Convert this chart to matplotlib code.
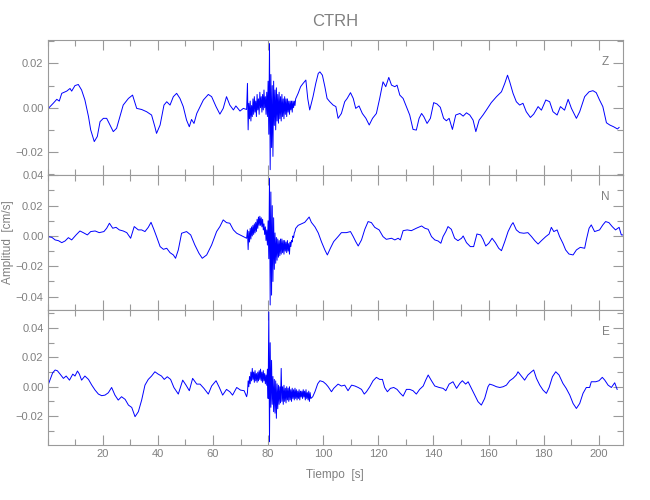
import numpy as np
import matplotlib
matplotlib.use('Agg')
import matplotlib.pyplot as plt
from matplotlib.ticker import MultipleLocator, FixedLocator, FuncFormatter

# Seismogram of station CTRH, components Z, N, E (cm/s)

# --- Z component: (time [s], amplitude) before the arrival
z_pre = [(0, -0.0006), (2, 0.002), (3.3, 0.0038), (4.2, 0.003), (5.1, 0.0065), (6.9, 0.0075),
         (8.1, 0.0087), (8.7, 0.0075), (9.9, 0.010), (11.1, 0.0105), (12.3, 0.008), (13.5, 0.0035),
         (14.8, -0.004), (15.6, -0.010), (16.9, -0.0153), (18.0, -0.013), (19.0, -0.0063), (20.2, -0.0048),
         (21.4, -0.0048), (22.6, -0.0078), (23.8, -0.0108), (25.0, -0.0093), (26.2, -0.004), (27.4, 0.0012),
         (29.3, 0.0042), (30.8, 0.0057), (32.3, -0.0003), (34.1, -0.0008), (35.9, -0.0018), (37.7, -0.0033),
         (38.9, -0.0086), (39.5, -0.0116), (40.8, -0.0078), (42.2, 0.0012), (43.2, 0.0027), (44.4, 0.0012),
         (45.6, 0.005), (46.8, 0.0065), (48.0, 0.0042), (49.2, 0.0005), (50.4, -0.0056), (51.4, -0.0086),
         (52.2, -0.0053), (53.1, -0.0071), (54.1, -0.0026), (55.3, 0.0005), (56.5, 0.0035), (58.3, 0.006),
         (59.5, 0.005), (61.1, 0.0005), (62.5, -0.0029), (63.7, -0.0003), (64.9, 0.005), (66.1, 0.0012),
         (67.4, -0.001), (68.3, 0.0008), (69.8, -0.0015), (71.0, -0.0003), (72.2, -0.0008)]
# samples every 0.25 s from 72.5 s (strong motion)
z_burst = [0.011, -0.010, 0.002, -0.005, 0.003, -0.006, 0.001, -0.004, 0.004, -0.003,
           0.005, -0.002, 0.003, -0.004, 0.006, -0.001, 0.004, -0.003, 0.007, 0.000,
           0.005, -0.002, 0.006, -0.001, 0.008, 0.000, 0.005, -0.003, 0.007, -0.004,
           0.012, -0.012, 0.029, -0.028, 0.015, -0.018, 0.010, -0.022, 0.012, -0.008,
           0.008, -0.010, 0.009, -0.006, 0.006, -0.007, 0.007, -0.005, 0.005, -0.006,
           0.006, -0.004, 0.004, -0.005, 0.005, -0.003, 0.004, -0.004, 0.004, -0.002,
           0.003, -0.003, 0.003, -0.001, 0.003, -0.002, 0.003, 0.000, 0.003, 0.001, 0.004]
z_post = [(90.9, 0.0065), (91.8, 0.0095), (92.7, 0.011), (93.7, 0.0125), (94.4, 0.004), (95.1, -0.001),
          (96.3, 0.005), (97.3, 0.011), (98.2, 0.0155), (98.8, 0.0162), (99.7, 0.0147), (100.6, 0.0095),
          (101.4, 0.0042), (102.4, 0.0027), (103.6, 0.0012), (104.6, 0.0005), (105.4, -0.0048), (106.6, -0.0026),
          (107.8, 0.0027), (108.7, 0.0042), (109.9, 0.0068), (110.9, 0.0042), (111.8, -0.0003), (113.0, 0.0008),
          (114.2, -0.0026), (115.5, -0.0048), (116.7, -0.0078), (117.9, -0.0048), (119.3, -0.0026), (120.5, 0.0042),
          (121.7, 0.0117), (122.7, 0.0095), (123.8, 0.0137), (124.8, 0.0102), (126.0, 0.0095), (126.8, 0.0102),
          (127.8, 0.0057), (129.0, 0.0042), (130.2, 0.0005), (131.4, -0.0033), (132.6, -0.0098), (133.8, -0.0101),
          (134.8, -0.0048), (135.7, -0.0026), (136.5, -0.004), (137.7, -0.0071), (138.9, -0.0048), (140.1, 0.0023),
          (141.3, 0.0017), (142.5, 0.0002), (143.7, -0.0048), (144.7, -0.0059), (145.7, -0.0048), (146.9, -0.0098),
          (148.1, -0.0033), (149.6, -0.0026), (150.8, -0.0038), (152.0, -0.0023), (153.2, -0.0033), (154.4, -0.0056),
          (155.4, -0.0108), (156.6, -0.0056), (158.0, -0.0033), (159.2, -0.0011), (161.0, 0.0023), (162.9, 0.005),
          (164.7, 0.0072), (165.9, 0.011), (166.9, 0.0147), (167.7, 0.0117), (168.9, 0.0065), (170.1, 0.0027),
          (171.3, 0.0012), (172.5, 0.002), (173.7, -0.0018), (175.2, -0.0044), (176.4, -0.0029), (178.0, 0.0005),
          (179.2, -0.0011), (180.8, 0.0035), (182.2, 0.0027), (183.4, -0.0018), (184.9, -0.0033), (186.1, 0.0005),
          (187.6, -0.0011), (188.9, 0.0038), (190.1, -0.0003), (191.9, -0.0048), (193.1, -0.0018), (194.9, 0.005),
          (196.5, 0.0072), (197.9, 0.0077), (199.1, 0.0068), (200.3, 0.0035), (201.5, 0.0005), (202.8, -0.0068),
          (204.0, -0.0078), (205.4, -0.0086), (206.8, -0.0096), (207.4, -0.0089)]

# --- N component
n_pre = [(0, -0.0004), (1.5, -0.0009), (2.7, -0.0026), (3.9, -0.0031), (5.1, -0.0044), (6.3, -0.0033),
         (7.5, -0.0011), (8.7, -0.0026), (10.3, 0.0007), (11.7, 0.0033), (12.9, 0.0022), (14.4, 0.0007),
         (15.6, 0.0029), (17.2, 0.0033), (18.7, 0.0022), (20.4, 0.0029), (21.4, 0.0051), (22.4, 0.0084),
         (23.6, 0.0051), (24.8, 0.0057), (26.0, 0.004), (27.4, 0.0033), (28.7, 0.0022), (30.1, -0.0015),
         (31.4, 0.0062), (32.9, 0.004), (34.1, 0.004), (35.3, 0.0029), (36.5, 0.0057), (37.5, 0.009),
         (38.6, 0.004), (39.5, -0.0004), (40.8, -0.007), (42.0, -0.0088), (43.2, -0.0081), (44.4, -0.011),
         (45.6, -0.0125), (46.4, -0.0147), (47.4, -0.0092), (48.6, 0.0018), (50.4, 0.0029), (51.9, 0.0007),
         (53.4, -0.0059), (54.9, -0.0114), (56.1, -0.0147), (57.7, -0.0125), (59.5, -0.0059), (61.3, 0.0029),
         (62.5, 0.0062), (63.7, 0.0106), (64.9, 0.0088), (66.1, 0.0084), (67.4, 0.004), (68.6, 0.0018),
         (69.8, 0.0007), (71.0, -0.0004), (72.2, -0.0015)]
n_burst = [0.004, -0.009, 0.003, -0.004, 0.005, -0.002, 0.006, 0.000, 0.007, 0.001,
           0.008, 0.002, 0.009, 0.003, 0.011, 0.005, 0.0125, 0.007, 0.013, 0.007,
           0.012, 0.006, 0.011, 0.004, 0.008, 0.001, 0.006, -0.003, 0.004, -0.006,
           0.010, -0.015, 0.038, -0.0455, 0.029, -0.039, 0.020, -0.030, 0.012, -0.022,
           0.002, -0.018, -0.001, -0.016, -0.002, -0.014, -0.003, -0.013, -0.002, -0.012,
           -0.002, -0.011, -0.003, -0.012, -0.003, -0.010, -0.004, -0.011, -0.003, -0.010,
           -0.005, -0.012, -0.004, -0.007, -0.003, -0.004, 0.000, -0.001, 0.002, 0.003, 0.005]
n_post = [(90.9, 0.007), (92.1, 0.008), (93.3, 0.009), (94.9, 0.0125), (95.7, 0.009), (97.0, 0.006),
          (98.2, 0.002), (99.4, -0.004), (100.6, -0.0092), (101.5, -0.0125), (102.6, -0.0081), (103.8, -0.0037),
          (105.4, -0.0004), (106.6, 0.0022), (108.4, 0.0022), (109.9, 0.0029), (110.9, -0.0004), (111.8, -0.0037),
          (112.7, -0.0066), (113.9, -0.0026), (115.1, 0.0044), (116.3, 0.0095), (117.5, 0.0088), (118.7, 0.0057),
          (120.3, 0.004), (121.7, -0.0004), (122.9, -0.0022), (124.8, -0.0015), (126.0, -0.0026), (127.2, -0.0015),
          (128.0, -0.0026), (129.0, 0.0035), (130.5, 0.004), (132.0, 0.0035), (133.8, 0.0051), (135.7, 0.0066),
          (136.9, 0.0051), (138.1, 0.0044), (139.3, -0.0004), (140.5, -0.0026), (141.7, -0.0033), (142.7, -0.0048),
          (143.5, -0.0004), (144.5, 0.0029), (145.3, 0.0062), (146.5, 0.0044), (147.7, -0.0015), (148.9, -0.0031),
          (150.2, -0.0015), (150.8, 0.0), (152.0, -0.0044), (153.4, -0.007), (154.6, -0.007), (155.8, 0.0013),
          (157.1, 0.0007), (158.0, -0.0022), (159.0, -0.0066), (160.1, -0.0048), (161.3, -0.0015), (162.5, -0.0044),
          (163.7, -0.0081), (164.7, -0.0097), (165.9, -0.0037), (167.1, 0.0029), (168.3, 0.0073), (168.9, 0.0088),
          (170.1, 0.004), (171.3, 0.0022), (172.8, 0.0018), (174.3, 0.0022), (175.6, -0.0004), (176.8, -0.0031),
          (178.0, -0.0053), (179.2, -0.0031), (180.8, -0.0004), (182.0, 0.0013), (182.8, 0.0057), (183.7, 0.0029),
          (184.9, 0.004), (185.8, -0.0004), (187.0, -0.0048), (188.0, -0.0092), (189.2, -0.0119), (190.7, -0.0125),
          (191.9, -0.0092), (193.3, -0.0075), (194.9, -0.0081), (195.5, -0.0026), (196.5, 0.0051), (197.3, 0.0073),
          (198.5, 0.0029), (200.3, 0.004), (201.5, 0.0073), (202.5, 0.0095), (203.7, 0.0088), (204.9, 0.0062),
          (206.1, 0.004), (207.4, 0.0057), (208.2, 0.0007), (208.8, 0.0007)]

# --- E component
e_pre = [(0, 0.0005), (0.8, 0.0045), (1.8, 0.0095), (2.7, 0.0114), (3.5, 0.0109), (4.5, 0.0086),
         (5.7, 0.0057), (6.7, 0.0073), (7.9, 0.0045), (9.1, 0.0086), (9.9, 0.0073), (10.8, 0.0107),
         (11.5, 0.0086), (12.3, 0.0045), (13.5, 0.0073), (14.8, 0.005), (16.0, 0.0011), (17.2, -0.0023),
         (18.4, -0.005), (19.6, -0.0061), (20.8, -0.0057), (22.0, -0.0041), (23.2, -0.0005), (24.4, -0.0057),
         (25.6, -0.0091), (26.8, -0.0068), (28.1, -0.0086), (29.3, -0.0125), (30.5, -0.0141), (31.7, -0.0204),
         (32.9, -0.017), (34.1, -0.0091), (35.3, 0.0011), (36.5, 0.005), (37.7, 0.0073), (38.9, 0.0102),
         (40.1, 0.0086), (41.3, 0.0073), (42.3, 0.005), (43.4, 0.0068), (44.6, 0.005), (45.8, -0.0005),
         (47.4, -0.005), (49.0, 0.0045), (50.2, 0.0011), (51.4, -0.0027), (52.6, 0.0057), (54.1, 0.0018),
         (55.3, 0.0018), (56.7, -0.0011), (58.3, -0.005), (59.5, 0.0005), (61.1, 0.0041), (62.3, -0.0005),
         (63.5, -0.0057), (64.9, -0.0018), (66.1, -0.0034), (67.1, -0.0057), (68.6, -0.0005), (70.0, -0.0023),
         (71.3, -0.0027), (72.2, -0.0068)]
e_burst = [-0.004, 0.004, 0.000, 0.007, 0.002, 0.010, 0.004, 0.0125, 0.005, 0.010,
           0.003, 0.011, 0.004, 0.009, 0.003, 0.010, 0.004, 0.011, 0.005, 0.012,
           0.004, 0.010, 0.003, 0.011, 0.004, 0.009, 0.002, 0.008, 0.001, 0.012,
           -0.008, 0.051, -0.0375, 0.030, -0.014, 0.018, -0.012, 0.007, -0.017, 0.005,
           -0.018, 0.004, -0.0215, 0.002, -0.015, 0.001, -0.012, 0.000, -0.011, 0.0125,
           -0.010, 0.000, -0.012, 0.001, -0.010, -0.001, -0.011, 0.000, -0.009, -0.001,
           -0.010, 0.000, -0.009, -0.002, -0.010, -0.001, -0.008, -0.002, -0.009, -0.001,
           -0.008, -0.002, -0.009, -0.003, -0.008, -0.002, -0.009, -0.003, -0.007, -0.003,
           -0.008, -0.002, -0.007, -0.003, -0.009, -0.002, -0.008, -0.004, -0.009, -0.003,
           -0.010, -0.004, -0.008]
e_post = [(96.2, -0.0068), (97.0, -0.0034), (98.0, 0.002), (98.8, 0.0041), (100.0, 0.0034), (101.0, 0.0018),
          (101.8, 0.0), (103.0, -0.0034), (103.8, -0.0011), (105.4, 0.0018), (106.6, 0.0005), (107.8, 0.0011),
          (109.0, -0.0027), (110.3, 0.0011), (111.5, 0.0005), (112.7, -0.0005), (113.9, -0.0018), (114.9, -0.005),
          (115.7, -0.0034), (116.9, 0.0), (118.1, 0.0041), (119.3, 0.0064), (120.5, 0.005), (121.5, 0.005),
          (122.3, -0.0005), (123.3, -0.0034), (124.4, -0.0011), (125.6, -0.0005), (126.8, -0.0018), (128.0, -0.0045),
          (129.0, -0.0064), (130.2, -0.0018), (131.4, -0.0018), (132.6, -0.0027), (133.8, -0.005), (135.0, -0.0018),
          (136.3, 0.0005), (137.2, 0.0045), (138.1, 0.008), (139.3, 0.0041), (140.5, 0.0005), (142.1, -0.0005),
          (143.5, -0.0011), (144.5, -0.0027), (145.7, 0.0018), (147.1, 0.0034), (148.4, -0.0011), (149.6, 0.0023),
          (150.5, 0.0041), (151.7, 0.0018), (152.6, 0.0034), (153.8, -0.0011), (155.0, -0.0057), (156.2, -0.0102),
          (157.4, -0.0125), (158.6, -0.008), (159.8, 0.0), (160.4, 0.0018), (161.6, 0.0011), (162.9, 0.0),
          (164.1, -0.0005), (165.3, 0.0), (166.5, 0.0011), (167.7, 0.0041), (168.9, 0.0057), (170.1, 0.008),
          (170.7, 0.0102), (171.9, 0.0073), (173.1, 0.0045), (174.3, 0.008), (175.6, 0.0102), (176.4, 0.0114),
          (177.4, 0.0057), (178.6, 0.0011), (179.8, -0.0023), (181.0, -0.0045), (182.0, -0.0005), (183.2, 0.0068),
          (184.4, 0.0102), (185.6, 0.008), (187.0, 0.0023), (188.2, -0.0011), (189.5, -0.0057), (190.7, -0.0114),
          (191.9, -0.0148), (193.1, -0.0114), (194.3, -0.0045), (195.5, -0.0005), (196.7, -0.0005), (197.3, 0.0034),
          (198.9, 0.0034), (200.1, 0.0041), (201.3, 0.0064), (202.2, 0.0045), (203.4, 0.0011), (204.6, -0.0005),
          (205.8, 0.0027), (206.7, -0.0018)]

components = ['Z', 'N', 'E']
ylims = [(-0.0304, 0.0306), (-0.0488, 0.0402), (-0.0397, 0.0523)]
time_labels = [20, 40, 60, 80, 100, 120, 140, 160, 180, 200]
burst_start = 72.5
burst_step = 0.25


def build_trace(pre, burst, post):
    t_pre, v_pre = np.array(pre).T
    t_post, v_post = np.array(post).T
    t_burst = burst_start + burst_step * np.arange(len(burst))
    t = np.concatenate([t_pre, t_burst, t_post])
    v = np.concatenate([v_pre, burst, v_post])
    return t, v


traces = [build_trace(z_pre, z_burst, z_post),
          build_trace(n_pre, n_burst, n_post),
          build_trace(e_pre, e_burst, e_post)]

# Narrower sans font, closer to the thin plotting font of the original
plt.rcParams['font.family'] = ['Liberation Sans', 'DejaVu Sans']
fs = 8.5

text_color = '#808080'
axis_color = '#9a9a9a'


def fmt_amp(v, pos):
    s = '%.2f' % v
    if s == '-0.00':
        s = '0.00'
    return s.replace('-', '\u2212')


fig = plt.figure(figsize=(6.5, 5), dpi=100)
left, width, height = 0.0734, 0.885, 0.27
bottoms = [0.65, 0.38, 0.11]

axes = []
for i, comp in enumerate(components):
    ax = fig.add_axes([left, bottoms[i], width, height])
    t, v = traces[i]
    ax.plot(t, v, color='#0000ff', lw=0.7)
    ax.set_xlim(0, 208.8)
    ax.set_ylim(*ylims[i])
    ax.xaxis.set_major_locator(FixedLocator(time_labels))
    ax.xaxis.set_minor_locator(MultipleLocator(10))
    ax.yaxis.set_major_locator(MultipleLocator(0.02))
    ax.yaxis.set_minor_locator(MultipleLocator(0.01))
    ax.yaxis.set_major_formatter(FuncFormatter(fmt_amp))
    ax.tick_params(which='both', direction='in', top=True, right=True,
                   color=axis_color, labelcolor=text_color, labelsize=8, pad=3)
    ax.tick_params(which='major', length=7, width=0.8)
    ax.tick_params(which='minor', length=4, width=0.8)
    for sp in ax.spines.values():
        sp.set_color(axis_color)
        sp.set_linewidth(0.8)
    if i < 2:
        ax.tick_params(labelbottom=False)
    ax.text(0.970, 0.84, comp, transform=ax.transAxes, ha='center', va='center',
            color=text_color, fontsize=fs)
    axes.append(ax)

axes[1].set_ylabel('Amplitud  [cm/s]', color=text_color, fontsize=fs)
axes[1].yaxis.set_label_coords(-0.058, 0.5)
axes[2].set_xlabel('Tiempo  [s]', color=text_color, fontsize=fs, labelpad=7)
fig.text(0.515, 0.958, 'CTRH', ha='center', va='center', color=text_color, fontsize=12)

fig.savefig('out.png', dpi=100)
